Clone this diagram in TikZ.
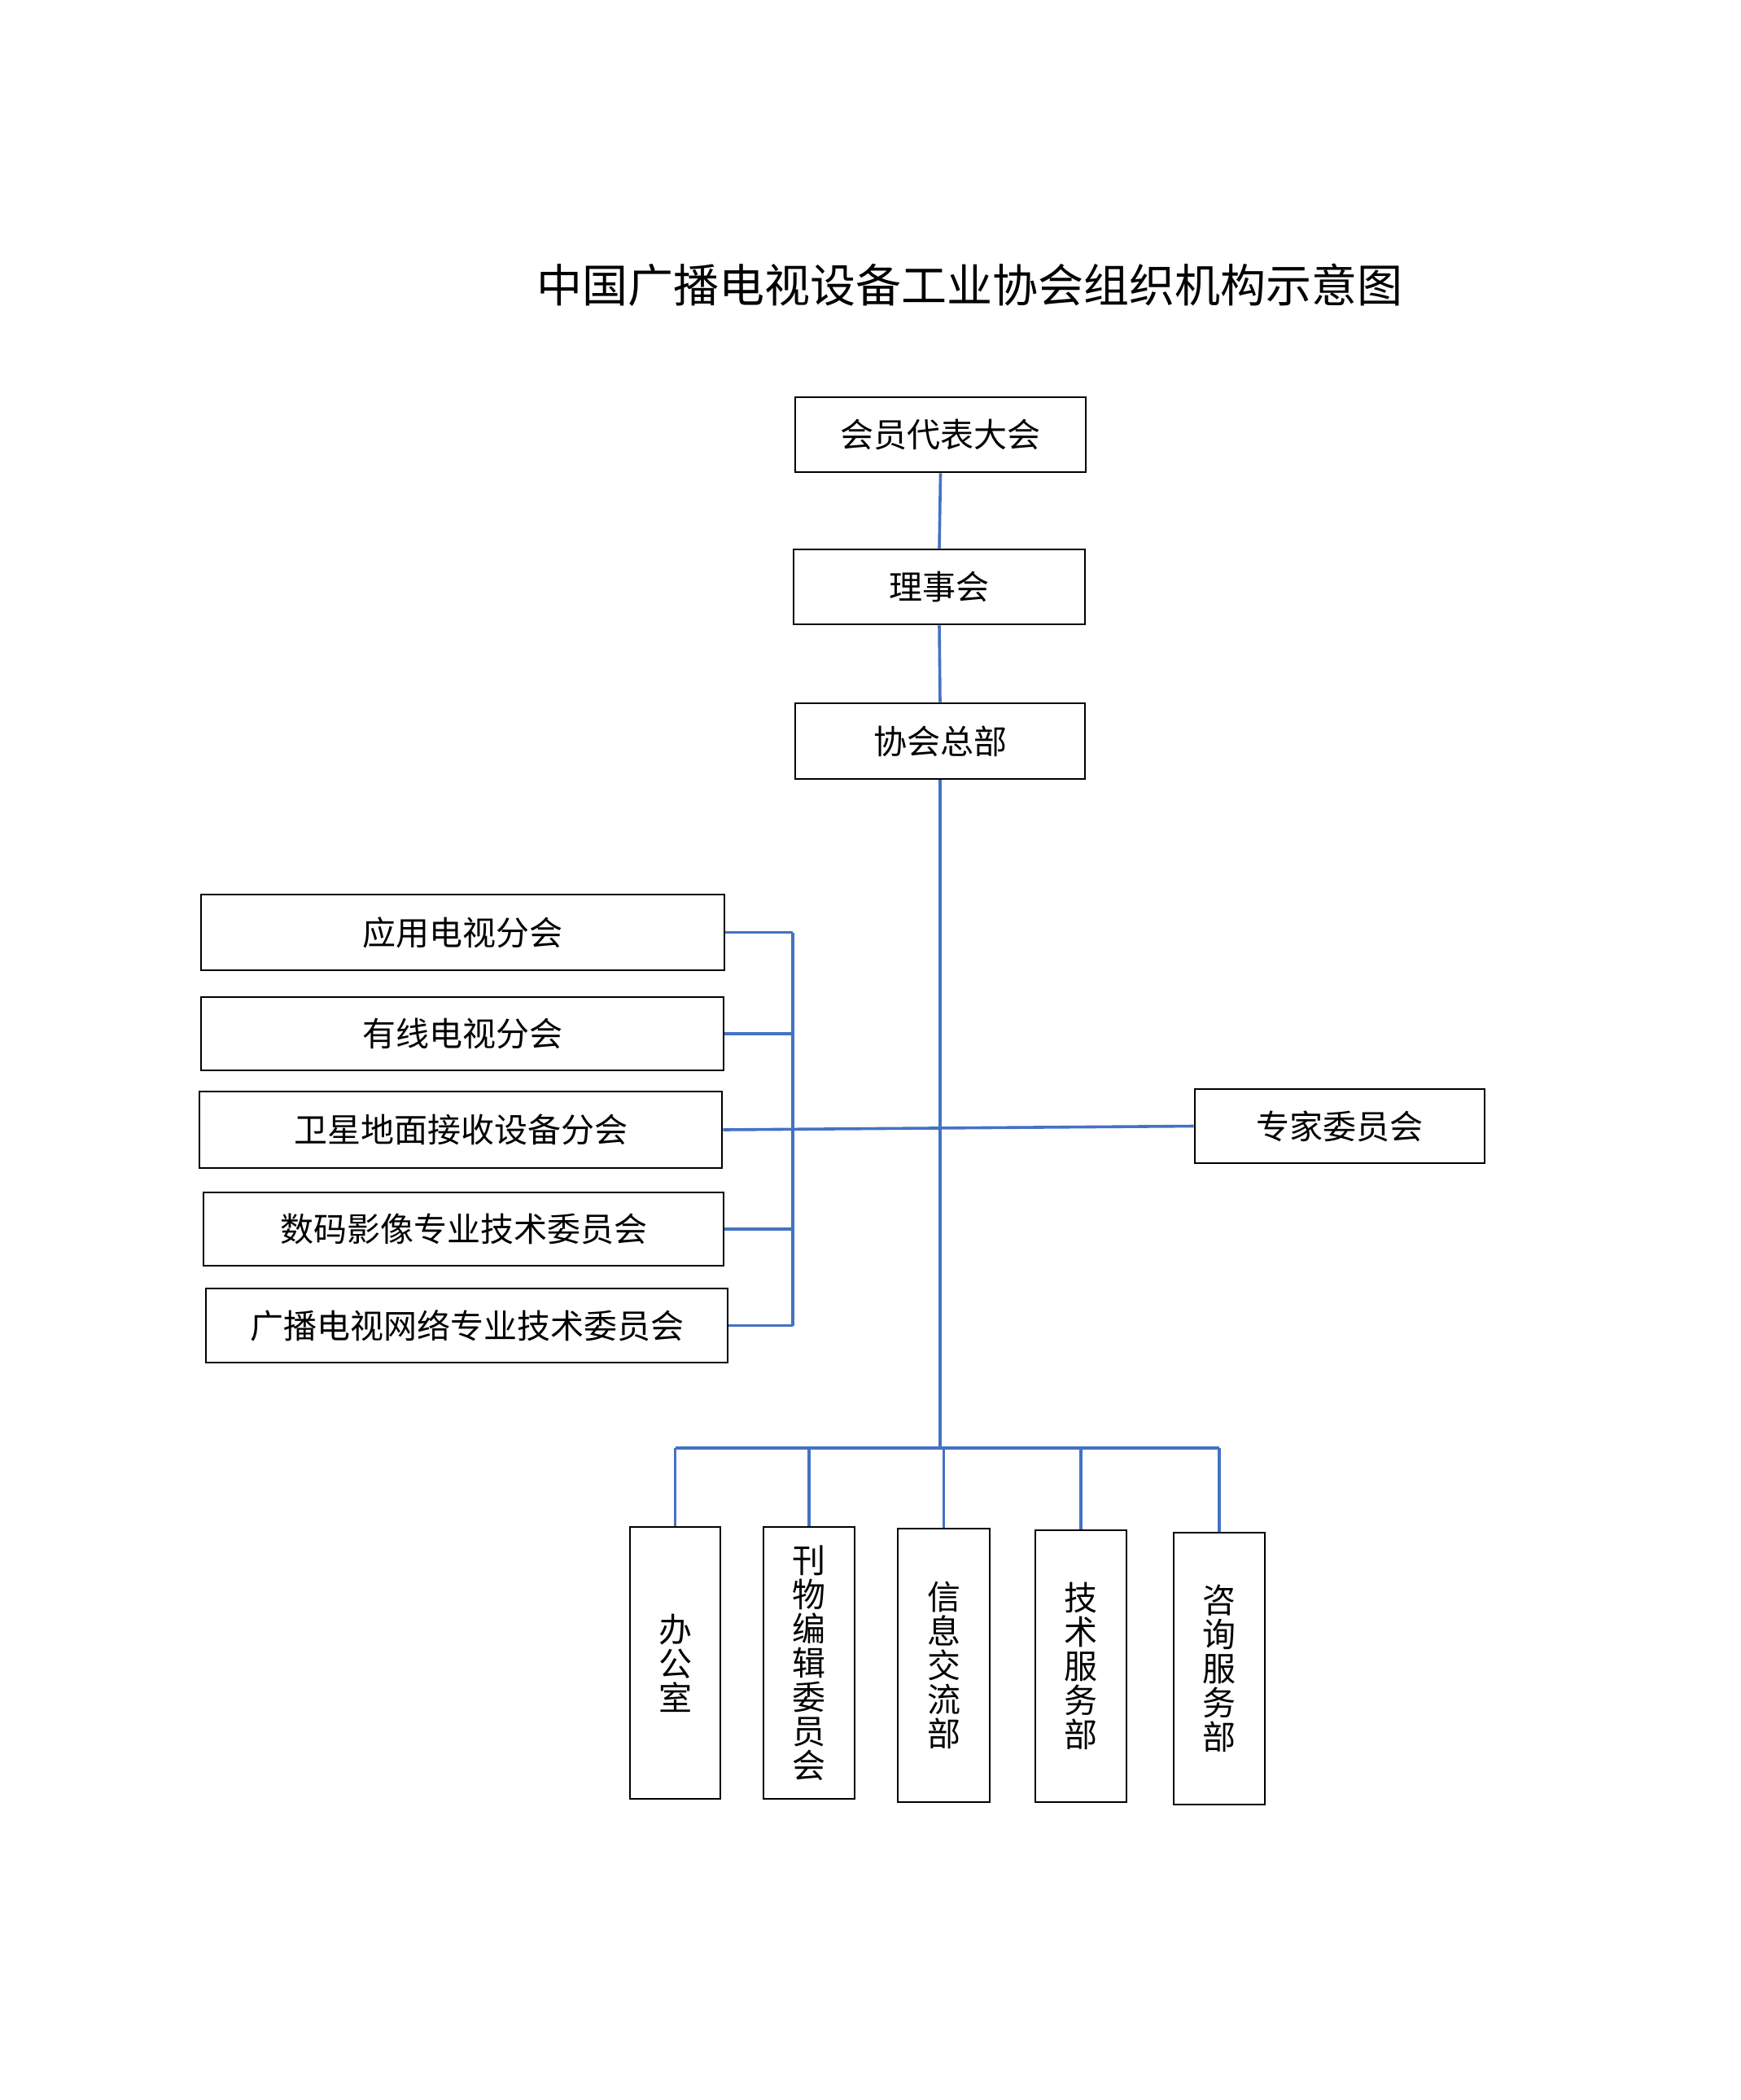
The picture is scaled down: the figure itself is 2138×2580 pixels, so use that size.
\documentclass[tikz,border=0pt]{standalone}
\usepackage{fontspec}
\setmainfont{Noto Sans CJK SC}
\definecolor{linkblue}{HTML}{4472C4}
\begin{document}
\begin{tikzpicture}[x=0.5pt,y=-0.5pt,
  box/.style={draw=black,line width=1.4pt,fill=white,inner sep=0pt,font=\fontsize{20.5pt}{21pt}\selectfont},
  vbox/.style={box,align=center},
  link/.style={draw=linkblue,line width=1.8pt}]
\useasboundingbox (0,0) rectangle (2138,2580);
\node[font=\fontsize{28pt}{32pt}\selectfont] (title) at (1191,350) {中国广播电视设备工业协会组织机构示意图};
% top chain
\node[box,minimum width=178.5pt,minimum height=46pt] (hy) at (1155.5,534) {会员代表大会};
\node[box,minimum width=179pt,minimum height=46pt] (ls) at (1154,721) {理事会};
\node[box,minimum width=178pt,minimum height=46.5pt] (zb) at (1155,910.5) {协会总部};
% left branch
\node[box,minimum width=321.5pt,minimum height=46.5pt] (L1) at (568.5,1145.5) {应用电视分会};
\node[box,minimum width=321pt,minimum height=45pt] (L2) at (568,1270) {有线电视分会};
\node[box,minimum width=321pt,minimum height=47pt] (L3) at (566,1388) {卫星地面接收设备分会};
\node[box,minimum width=319.5pt,minimum height=45pt] (L4) at (569.5,1510) {数码影像专业技术委员会};
\node[box,minimum width=320.5pt,minimum height=45.5pt] (L5) at (573.5,1628.5) {广播电视网络专业技术委员会};
% right
\node[box,minimum width=178pt,minimum height=45.5pt] (R) at (1646,1383.5) {专家委员会};
% bottom
\node[vbox,minimum width=55.5pt,minimum height=167pt] (B1) at (829.5,2043) {办\\公\\室};
\node[vbox,minimum width=56pt,minimum height=167pt] (B2) at (994,2043) {刊\\物\\编\\辑\\委\\员\\会};
\node[vbox,minimum width=56.5pt,minimum height=168pt] (B3) at (1159.5,2046) {信\\息\\交\\流\\部};
\node[vbox,minimum width=56pt,minimum height=167pt] (B4) at (1328,2047) {技\\术\\服\\务\\部};
\node[vbox,minimum width=56pt,minimum height=167pt] (B5) at (1498,2050) {咨\\询\\服\\务\\部};
% helper coordinates
\coordinate (brx) at (974,1146);
\coordinate (bus) at (1157,1779);
\coordinate (busL) at (829.5,1779);
\coordinate (busR) at (1498,1779);
% connectors
\draw[link] (hy.south) -- (ls.north);
\draw[link] (ls.south) -- (zb.north);
\draw[link] (zb.south) -- (zb.south |- bus);
\draw[link] (L1.east) -- (L1.east -| brx);
\draw[link] (L2.east) -- (L2.east -| brx);
\draw[link] (L4.east) -- (L4.east -| brx);
\draw[link] (L5.east) -- (L5.east -| brx);
\draw[link] (L1.east -| brx) -- (L5.east -| brx);
\draw[link] (L3.east) -- (R.west);
\draw[link] (busL) -- (busR);
\draw[link] (B1.north) -- (B1.north |- bus);
\draw[link] (B2.north) -- (B2.north |- bus);
\draw[link] (B3.north) -- (B3.north |- bus);
\draw[link] (B4.north) -- (B4.north |- bus);
\draw[link] (B5.north) -- (B5.north |- bus);
\end{tikzpicture}
\end{document}
